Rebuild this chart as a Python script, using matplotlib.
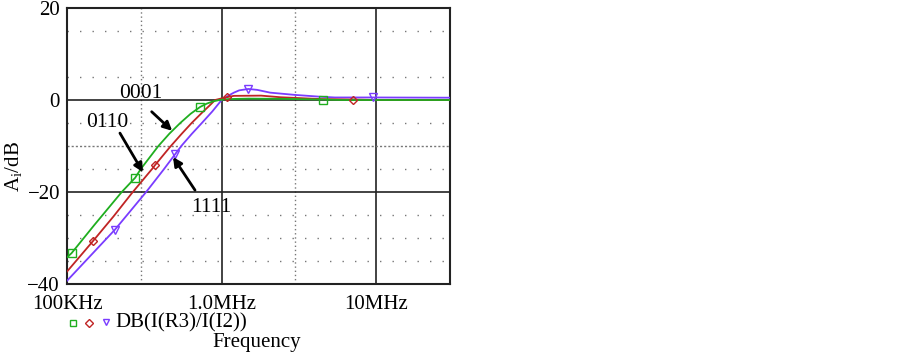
import matplotlib
matplotlib.use('Agg')
import matplotlib.pyplot as plt

plt.rcParams['font.family'] = ['Liberation Serif', 'DejaVu Serif']

# Данные кривых (частота в Гц, усиление в дБ)
green_f = [1e5, 1.07e5, 1.5e5, 2.26e5, 2.76e5, 3.0e5, 3.9e5, 4.6e5, 5.4e5, 6.3e5, 7.27e5,
           8.0e5, 8.8e5, 9.7e5, 1.1e6, 1.5e6, 2.5e6, 4.5e6, 6.0e6, 3.0e7]
green_db = [-34.2, -33.3, -27.2, -20.0, -16.9, -15.0, -10.0, -7.3, -5.0, -3.0, -1.5,
            -0.8, -0.3, 0.0, 0.2, 0.3, 0.25, 0.1, 0.0, 0.0]

red_f = [1e5, 1.47e5, 2.0e5, 2.62e5, 3.59e5, 3.7e5, 4.64e5, 5.5e5, 6.4e5, 7.5e5, 8.3e5,
         9.08e5, 1.0e6, 1.08e6, 1.2e6, 1.8e6, 2.4e6, 4.4e6, 7.1e6, 1.0e7, 3.0e7]
red_db = [-37.3, -30.7, -25.3, -20.3, -14.8, -14.2, -10.2, -7.4, -5.0, -2.7, -1.3,
          0.0, 0.35, 0.6, 0.9, 0.95, 0.6, 0.2, 0.1, 0.0, 0.0]

blue_f = [1e5, 2.04e5, 3.25e5, 4.2e5, 5.0e5, 5.55e5, 6.4e5, 7.45e5, 8.7e5, 1.0e6, 1.1e6,
          1.2e6, 1.3e6, 1.49e6, 1.7e6, 2.06e6, 3.0e6, 4.4e6, 5.4e6, 9.6e6, 3.0e7]
blue_db = [-39.3, -28.2, -20.0, -15.2, -11.8, -9.8, -7.4, -5.0, -2.5, 0.0, 0.9,
           1.6, 2.1, 2.4, 2.2, 1.6, 1.1, 0.7, 0.55, 0.55, 0.5]

# Маркеры на кривых
green_mf = [1.07e5, 2.76e5, 7.27e5, 4.5e6]
green_mdb = [-33.3, -16.9, -1.5, 0.1]
red_mf = [1.47e5, 3.7e5, 1.08e6, 7.1e6]
red_mdb = [-30.7, -14.2, 0.6, 0.1]
blue_mf = [2.04e5, 5.0e5, 1.49e6, 9.6e6]
blue_mdb = [-28.2, -11.8, 2.4, 0.55]

x_ticks = [1e5, 1e6, 1e7]
x_labels = ['100KHz', '1.0MHz', '10MHz']
y_ticks = [20, 0, -20, -40]

c_green = '#1fae1f'
c_red = '#c02424'
c_blue = '#7a3cff'
fs = 15

fig = plt.figure(figsize=(9.03, 3.53), dpi=100)
ax = fig.add_axes([67 / 903, 1 - 284 / 353, (450 - 67) / 903, 276 / 353])
ax.set_xscale('log')
ax.set_xlim(1e5, 3e7)
ax.set_ylim(-40, 20)

# Сетка: сплошные и пунктирные линии
for x in [1e6, 1e7]:
    ax.axvline(x, color='#222222', lw=1.2, zorder=1)
for x in [3e5, 3e6]:
    ax.axvline(x, color='#777777', lw=1.0, ls=(0, (1, 2)), zorder=1)
for y in [0, -20]:
    ax.axhline(y, color='#222222', lw=1.2, zorder=1)
for y in [15, 5, -5, -15, -25, -30, -35]:
    ax.axhline(y, color='#777777', lw=1.0, ls=(0, (1, 8)), zorder=1)
ax.axhline(-10, color='#777777', lw=1.0, ls=(0, (1.5, 1.5)), zorder=1)

ax.plot(blue_f, blue_db, color=c_blue, lw=1.3, zorder=3)
ax.plot(red_f, red_db, color=c_red, lw=1.3, zorder=4)
ax.plot(green_f, green_db, color=c_green, lw=1.3, zorder=5)
ax.plot(green_mf, green_mdb, 's', ms=6, mfc='none', mec=c_green, mew=1.0, zorder=6)
ax.plot(red_mf, red_mdb, 'D', ms=4.5, mfc='none', mec=c_red, mew=1.0, zorder=6)
ax.plot(blue_mf, blue_mdb, 'v', ms=5.5, mfc='none', mec=c_blue, mew=1.0, zorder=6)

# Подписи со стрелками
arrow = dict(arrowstyle='-|>', color='black', lw=2.0, mutation_scale=13, shrinkA=0, shrinkB=0)
ax.annotate('', xy=(4.79e5, -6.7), xytext=(3.53e5, -2.55), arrowprops=arrow, zorder=7)
ax.annotate('', xy=(3.1e5, -15.7), xytext=(2.2e5, -7.2), arrowprops=arrow, zorder=7)
ax.annotate('', xy=(4.85e5, -12.4), xytext=(6.73e5, -19.6), arrowprops=arrow, zorder=7)
ax.text(3.01e5, 1.5, '0001', fontsize=fs + 0.5, ha='center', va='center', zorder=8)
ax.text(1.81e5, -4.8, '0110', fontsize=fs + 0.5, ha='center', va='center', zorder=8)
ax.text(8.55e5, -23.4, '1111', fontsize=fs + 0.5, ha='center', va='center', zorder=8)

ax.set_xticks(x_ticks)
ax.set_xticklabels(x_labels)
ax.set_yticks(y_ticks)
ax.minorticks_off()
ax.tick_params(axis='x', length=0, labelsize=fs, pad=8)
ax.tick_params(axis='y', length=0, labelsize=fs, pad=5)
for s in ax.spines.values():
    s.set_linewidth(1.5)
    s.set_color('#222222')

fig.text(14 / 903, 1 - 166 / 353, 'A$_\\mathregular{i}$/dB', fontsize=fs, rotation=90,
         ha='center', va='center')

# Легенда и подпись оси снизу
fig.lines.append(plt.Line2D([73 / 903], [1 - 323 / 353], marker='s', ms=5, mfc='none',
                            mec=c_green, mew=1.0, transform=fig.transFigure))
fig.lines.append(plt.Line2D([89 / 903], [1 - 323 / 353], marker='D', ms=4, mfc='none',
                            mec=c_red, mew=1.0, transform=fig.transFigure))
fig.lines.append(plt.Line2D([106 / 903], [1 - 322 / 353], marker='v', ms=5, mfc='none',
                            mec=c_blue, mew=1.0, transform=fig.transFigure))
fig.text(115 / 903, 1 - 322.5 / 353, 'DB(I(R3)/I(I2))', fontsize=fs, ha='left', va='center')
fig.text(257 / 903, 1 - 342 / 353, 'Frequency', fontsize=fs, ha='center', va='center')

fig.savefig('out.png', dpi=100)
